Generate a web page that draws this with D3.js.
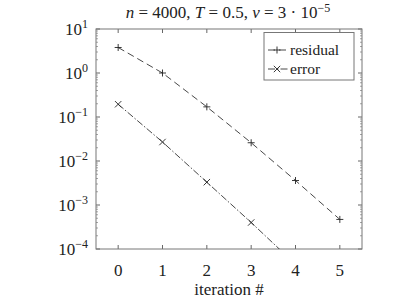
<!DOCTYPE html>
<html>
<head>
<meta charset="utf-8">
<script src="https://cdn.jsdelivr.net/npm/d3@7"></script>
<style>
  svg text, svg tspan { font-family: "Liberation Serif", "Times New Roman", serif !important; }
</style>
</head>
<body style="margin:0; background:#fff">
<svg id="fig" width="399" height="299"></svg>
<script>
var iterations = [0, 1, 2, 3, 4, 5],
    residual = [3.8, 1.0, 0.17, 0.026, 0.0036, 0.00047],
    errorVals = [0.195, 0.027, 0.0033, 0.0004, 0.000045],
    xTicks = [0, 1, 2, 3, 4, 5],
    yExponents = [1, 0, -1, -2, -3, -4],
    seriesNames = ["residual", "error"];

var W = 399, H = 299,
    margin = { left: 96, right: 37, top: 29, bottom: 50 };

var svg = d3.select("#fig");

var x = d3.scaleLinear().domain([-0.5, 5.5]).range([margin.left, W - margin.right]),
    y = d3.scaleLog().domain([1e-4, 1e1]).range([H - margin.bottom, margin.top]);

var x0 = x.range()[0], x1 = x.range()[1],
    yb = y.range()[0], yt = y.range()[1];

svg.append("defs").append("clipPath").attr("id", "clip")
    .append("rect")
    .attr("x", x0).attr("y", yt)
    .attr("width", x1 - x0).attr("height", yb - yt);

function addText(sel, size) {
    return sel.append("text").attr("font-size", size).attr("fill", "#222");
}

// ticks
var tickColor = "#666";
var g = svg.append("g");

xTicks.forEach(function (t) {
    g.append("line").attr("x1", x(t)).attr("x2", x(t)).attr("y1", yb).attr("y2", yb - 4)
        .attr("stroke", tickColor);
    g.append("line").attr("x1", x(t)).attr("x2", x(t)).attr("y1", yt).attr("y2", yt + 4)
        .attr("stroke", tickColor);
    addText(g, 17).attr("x", x(t)).attr("y", yb + 27)
        .attr("text-anchor", "middle").text(t);
});

yExponents.forEach(function (e) {
    var v = Math.pow(10, e);
    g.append("line").attr("x1", x0).attr("x2", x0 + 4).attr("y1", y(v)).attr("y2", y(v))
        .attr("stroke", tickColor);
    g.append("line").attr("x1", x1).attr("x2", x1 - 4).attr("y1", y(v)).attr("y2", y(v))
        .attr("stroke", tickColor);
    if (e < 1) {
        for (var k = 2; k < 10; k++) {
            var m = k * v;
            g.append("line").attr("x1", x0).attr("x2", x0 + 2).attr("y1", y(m)).attr("y2", y(m))
                .attr("stroke", tickColor).attr("stroke-width", 0.6);
            g.append("line").attr("x1", x1).attr("x2", x1 - 2).attr("y1", y(m)).attr("y2", y(m))
                .attr("stroke", tickColor).attr("stroke-width", 0.6);
        }
    }
    var lbl = addText(g, 17).attr("x", x0 - 8).attr("y", y(v) + 6)
        .attr("text-anchor", "end");
    lbl.append("tspan").text("10");
    lbl.append("tspan").attr("dy", -7).attr("font-size", 12)
        .text(e < 0 ? "\u2212" + (-e) : e);
});

// frame
svg.append("rect").attr("x", x0).attr("y", yt)
    .attr("width", x1 - x0).attr("height", yb - yt)
    .attr("fill", "none").attr("stroke", "#777").attr("stroke-width", 1);

// series
var line = d3.line().x(function (d) { return x(d[0]); }).y(function (d) { return y(d[1]); });

var resData = iterations.map(function (it, i) { return [it, residual[i]]; }),
    errData = errorVals.map(function (v, i) { return [iterations[i], v]; });

var plot = svg.append("g").attr("clip-path", "url(#clip)");

plot.append("path").datum(resData).attr("d", line)
    .attr("fill", "none").attr("stroke", "#333").attr("stroke-width", 0.9)
    .attr("stroke-dasharray", "7,4");
plot.append("path").datum(errData).attr("d", line)
    .attr("fill", "none").attr("stroke", "#333").attr("stroke-width", 0.9)
    .attr("stroke-dasharray", "7,2,1.5,2");

function plus(sel, cx, cy, r) {
    sel.append("path").attr("d", "M" + (cx - r) + "," + cy + "H" + (cx + r) + "M" + cx + "," + (cy - r) + "V" + (cy + r))
        .attr("stroke", "#222").attr("stroke-width", 0.9).attr("fill", "none");
}
function cross(sel, cx, cy, r) {
    sel.append("path").attr("d", "M" + (cx - r) + "," + (cy - r) + "L" + (cx + r) + "," + (cy + r) +
        "M" + (cx - r) + "," + (cy + r) + "L" + (cx + r) + "," + (cy - r))
        .attr("stroke", "#222").attr("stroke-width", 0.9).attr("fill", "none");
}

resData.forEach(function (d) { plus(plot, x(d[0]), y(d[1]), 3.5); });
errData.forEach(function (d) { cross(plot, x(d[0]), y(d[1]), 3.2); });

// legend
var lg = svg.append("g");
lg.append("rect").attr("x", 264).attr("y", 32.5).attr("width", 90).attr("height", 47.5)
    .attr("fill", "#fff").attr("stroke", "#777");
var legendY = [50, 69];
seriesNames.forEach(function (name, i) {
    var ly = legendY[i];
    lg.append("line").attr("x1", 268).attr("x2", 288).attr("y1", ly).attr("y2", ly)
        .attr("stroke", "#333").attr("stroke-width", 0.9)
        .attr("stroke-dasharray", i === 0 ? "7,4" : "7,2,1.5,2");
    if (i === 0) plus(lg, 277, ly, 3.5); else cross(lg, 277, ly, 3.2);
    addText(lg, 15.5).attr("x", 290).attr("y", ly + 4.5).text(name);
});

// title
var title = addText(svg, 17).attr("x", 228).attr("y", 18)
    .attr("text-anchor", "middle");
title.append("tspan").attr("font-style", "italic").text("n");
title.append("tspan").text(" = 4000, ");
title.append("tspan").attr("font-style", "italic").text("T");
title.append("tspan").text(" = 0.5, ");
title.append("tspan").attr("font-style", "italic").text("\u03bd");
title.append("tspan").text(" = 3 \u00b7 10");
title.append("tspan").attr("dy", -6).attr("font-size", 12).text("\u22125");

// x label
addText(svg, 17).attr("x", (x0 + x1) / 2).attr("y", 295)
    .attr("text-anchor", "middle").text("iteration #");
</script>
</body>
</html>
